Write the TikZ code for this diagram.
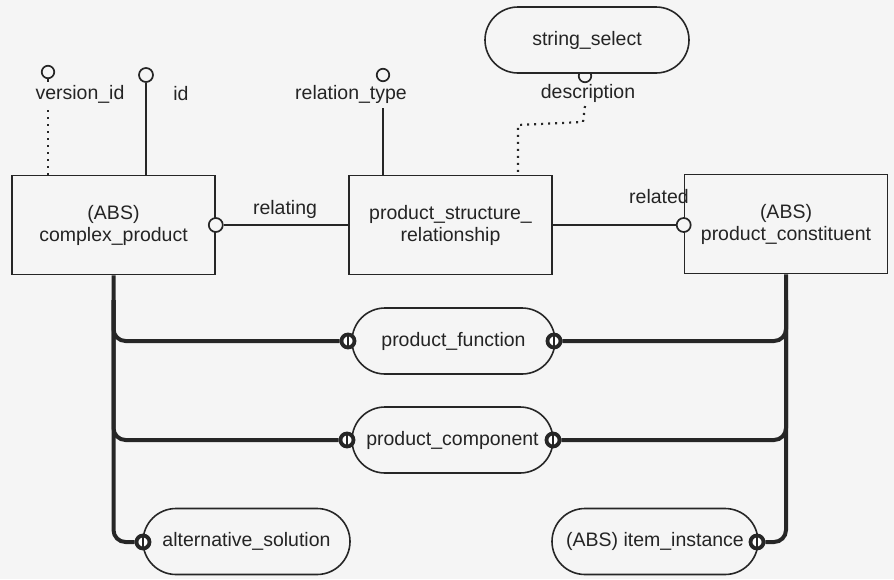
\documentclass[tikz,border=0pt]{standalone}
\usepackage{fontspec}
\setmainfont{Liberation Sans}
\definecolor{paper}{HTML}{F5F5F5}
\definecolor{ink}{HTML}{262626}
\definecolor{txt}{HTML}{242424}
\begin{document}
\begin{tikzpicture}[x=1pt,y=-1pt,
  every node/.style={font=\fontsize{19.5}{22}\selectfont, text=txt},
  entity/.style={draw=ink, line width=1.6pt, minimum width=203pt, minimum height=99pt,
    align=center, inner sep=0pt, fill=paper},
  typebox/.style={draw=ink, line width=1.6pt, rounded corners=33pt, minimum height=66pt,
    inner sep=0pt, fill=paper},
  bigo/.style={circle, draw=ink, line width=3.8pt, fill=white, minimum size=13pt, inner sep=0pt,
    path picture={\draw[ink, line width=2.6pt] (path picture bounding box.north) -- (path picture bounding box.south);}},
  smallo/.style={circle, draw=ink, line width=1.7pt, fill=paper, minimum size=#1, inner sep=0pt},
  smallo/.default=12.5pt,
  thinlink/.style={draw=ink, line width=1.6pt},
  thicklink/.style={draw=ink, line width=4pt, rounded corners=12pt},
  optional/.style={draw=ink, line width=2.2pt, dash pattern=on 2pt off 5pt},
]
\fill[paper] (0,0) rectangle (894,579);
\useasboundingbox (0,0) rectangle (894,579);

% entities
\node[entity] (cp) at (113.5,225) {(ABS)\\complex\_product};
\node[entity] (psr) at (450.5,225) {product\_structure\_\\relationship};
\node[entity] (pc) at (786,224) {(ABS)\\product\_constituent};

% simple attributes
\node[smallo] (vid) at (48,72) {};
\coordinate (vids) at (48,82);
\draw[thinlink] (vid) -- (vids);
\node (vidl) at (80,94) {version\_id};
\coordinate (vidt) at (48,110);
\draw[optional] (vidt) -- (vidt |- cp.north);

\node[smallo=14pt] (idc) at (146,75) {};
\draw[thinlink] (idc) -- (idc |- cp.north);
\node (idl) at (181,94) {id};

\node[smallo] (rtc) at (383,75) {};
\node (rtl) at (351,94) {relation\_type};
\coordinate (rtt) at (383,108);
\draw[thinlink] (rtt) -- (rtt |- psr.north);

% description -> string_select
\node[smallo] (dsc) at (585,76) {};
\node[typebox, minimum width=204pt] (ss) at (587,40) {string\_select};
\node (dsl) at (588,93) {description};
\coordinate (d1) at (585,106);
\coordinate (d2) at (583,122);
\coordinate (d3) at (518,125);
\draw[optional] (d1) -- (d2) -- (d3) -- (d3 |- psr.north);

% relating / related
\node[smallo=14pt] (rgc) at (cp.east) {};
\draw[thinlink] (rgc) -- (psr.west |- rgc);
\node (rgl) at (285,209) {relating};
\node[smallo=14pt] (rdc) at (pc.west |- psr.east) {};
\draw[thinlink] (psr.east) -- (rdc);
\node (rdl) at (659,197) {related};

% select types
\node[typebox, minimum width=203pt] (pf) at (453.5,341) {product\_function};
\node[typebox, minimum width=201pt] (pcomp) at (452.5,440) {product\_component};
\node[typebox, minimum width=207pt] (alt) at (246.5,541.5) {alternative\_solution};
\node[typebox, minimum width=206pt] (ii) at (655,541.5) {(ABS) item\_instance};

\node[bigo] (pfL) at (348,341) {};
\node[bigo] (pfR) at (554,341) {};
\node[bigo] (pcL) at (347,440) {};
\node[bigo] (pcR) at (553,440) {};
\node[bigo] (altc) at (143,542) {};
\node[bigo] (iic) at (757,542) {};

% thick relationship trees
\coordinate (lb) at (113.5,300);
\coordinate (rb) at (786,300);
\draw[thicklink] (cp.south) |- (altc);
\draw[thicklink] (lb) |- (pfL);
\draw[thicklink] (lb) |- (pcL);
\draw[thicklink] (pc.south) |- (iic);
\draw[thicklink] (rb) |- (pfR);
\draw[thicklink] (rb) |- (pcR);
\end{tikzpicture}
\end{document}
